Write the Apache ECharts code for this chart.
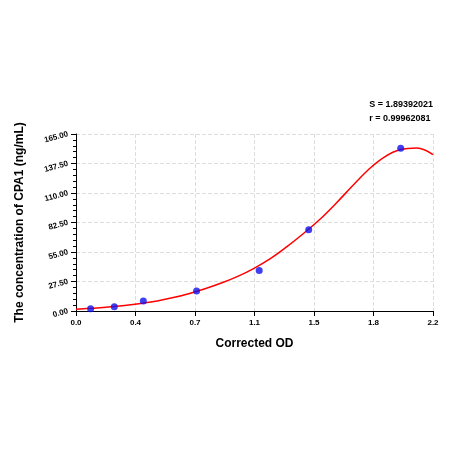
<!DOCTYPE html><html><head><meta charset="utf-8"><script src="https://cdn.jsdelivr.net/npm/echarts@6/dist/echarts.min.js"></script></head><body style="margin:0"><div id="c" style="width:450px;height:450px"></div><script>
const pointX=[0.090,0.236,0.415,0.743,1.129,1.434,2.001];
const pointY=[2.2,4.0,9.3,18.6,37.8,75.7,151.7];
const curveX=[0,0.1,0.2,0.3,0.4,0.5,0.6,0.7,0.8,0.9,1.0,1.1,1.2,1.3,1.4,1.5,1.6,1.7,1.8,1.9,2.0,2.1,2.2];
const curveY=[1.6,2.6,3.7,5.2,7.1,9.4,12.5,16.4,21,26.3,32.5,40,49,60,72,85,100,116,131.5,143.5,150.5,152,145.8];
const ch=echarts.init(document.getElementById('c'));
const f='Liberation Sans';
ch.setOption({animation:false,
grid:{left:76,right:17,top:134,bottom:139},
graphic:[{type:'text',right:17,top:98,style:{text:'S = 1.89392021\nr = 0.99962081',align:'right',font:'bold 9px "Liberation Sans"',lineHeight:14,fill:'#000'}}],
xAxis:{type:'value',min:0,max:2.2,interval:2.2/6,name:'Corrected OD',nameLocation:'middle',nameGap:27,
nameTextStyle:{fontFamily:f,fontWeight:'bold',fontSize:12,color:'#000'},
axisLine:{lineStyle:{color:'#000'}},axisTick:{lineStyle:{color:'#000'}},
axisLabel:{formatter:v=>v.toFixed(1),fontFamily:f,fontWeight:'bold',fontSize:8,color:'#000'},
splitLine:{lineStyle:{color:'#ddd',type:'dashed'}}},
yAxis:{type:'value',min:0,max:165,interval:27.5,name:'The concentration of CPA1 (ng/mL)',nameLocation:'middle',nameGap:50,
nameTextStyle:{fontFamily:f,fontWeight:'bold',fontSize:12,color:'#000'},
axisLine:{show:true,lineStyle:{color:'#000'}},axisTick:{show:true,lineStyle:{color:'#000'}},minorTick:{show:true,splitNumber:5,lineStyle:{color:'#000'}},
axisLabel:{formatter:v=>v.toFixed(2),rotate:15,fontFamily:f,fontWeight:'bold',fontSize:8,color:'#000'},
splitLine:{lineStyle:{color:'#ddd',type:'dashed'}}},
series:[{type:'line',data:curveX.map((x,i)=>[x,curveY[i]]),smooth:0.4,showSymbol:false,lineStyle:{color:'#ff0000',width:1.5},z:2},
{type:'scatter',data:pointX.map((x,i)=>[x,pointY[i]]),symbolSize:7,itemStyle:{color:'#1010ee'},z:3}]
});
</script></body></html>
